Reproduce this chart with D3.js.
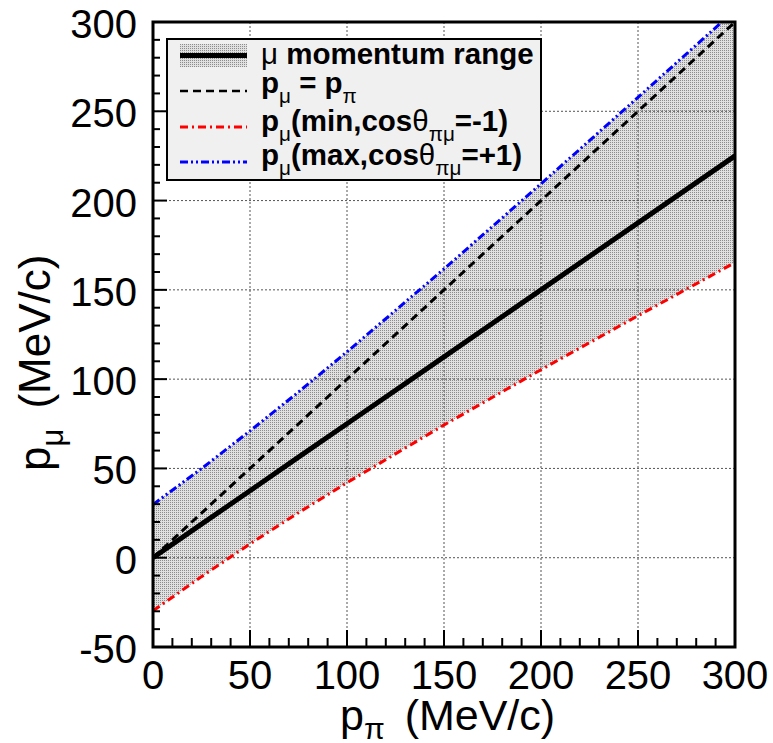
<!DOCTYPE html>
<html>
<head>
<meta charset="utf-8">
<script src="https://cdn.jsdelivr.net/npm/d3@7"></script>
<style>
  html, body { margin: 0; padding: 0; background: #fff; }
  svg { display: block; }
</style>
</head>
<body>
<svg id="chart" width="773" height="743"></svg>
<script>
// ---- data ----
const pPi      = [0, 25, 50, 75, 100, 150, 200, 250, 300];
const pMuMax   = [29.8, 49.9, 71.0, 92.8, 115.3, 161.7, 209.4, 257.8, 306.6];
const pMuMin   = [-29.8, -10.6, 7.7, 25.2, 42.0, 74.3, 105.3, 135.5, 165.3];
const pMuMean  = [0, 18.8, 37.5, 56.3, 75.0, 112.5, 150.0, 187.5, 225.0];
const pMuEqual = [0, 25, 50, 75, 100, 150, 200, 250, 300];
const xTicks = [0, 50, 100, 150, 200, 250, 300];
const yTicks = [-50, 0, 50, 100, 150, 200, 250, 300];
const xDomain = [0, 300];
const yDomain = [-50, 300];

const FONT = "'Liberation Sans', Arial, Helvetica, sans-serif";
const L = 153, R = 735, T = 22, B = 647;

const svg = d3.select("#chart");
const x = d3.scaleLinear().domain(xDomain).range([L, R]);
const y = d3.scaleLinear().domain(yDomain).range([B, T]);

const defs = svg.append("defs");
const pat = defs.append("pattern").attr("id", "dots").attr("patternUnits", "userSpaceOnUse")
  .attr("width", 2).attr("height", 2);
pat.append("rect").attr("width", 2).attr("height", 2).attr("fill", "#e0e0e0");
pat.append("rect").attr("width", 1).attr("height", 1).attr("fill", "#8c8c8c");
defs.append("clipPath").attr("id", "clip").append("rect")
  .attr("x", L).attr("y", T).attr("width", R - L).attr("height", B - T);

const plot = svg.append("g").attr("clip-path", "url(#clip)");

// band
const pts = pPi.map((p, i) => ({p, lo: pMuMin[i], hi: pMuMax[i]}));
plot.append("path").datum(pts)
  .attr("fill", "url(#dots)")
  .attr("d", d3.area().x(d => x(d.p)).y0(d => y(d.lo)).y1(d => y(d.hi)));

// grid
plot.append("g").selectAll("line").data(xTicks.filter(v => v > xDomain[0] && v < xDomain[1])).join("line")
  .attr("x1", d => x(d)).attr("x2", d => x(d)).attr("y1", T).attr("y2", B)
  .attr("stroke", "#555").attr("stroke-width", 1).attr("stroke-dasharray", "2,2");
plot.append("g").selectAll("line").data(yTicks.filter(v => v > yDomain[0] && v < yDomain[1])).join("line")
  .attr("y1", d => y(d)).attr("y2", d => y(d)).attr("x1", L).attr("x2", R)
  .attr("stroke", "#555").attr("stroke-width", 1).attr("stroke-dasharray", "2,2");

const line = (arr) => d3.line().x((d, i) => x(pPi[i])).y(d => y(d))(arr);

plot.append("path").attr("d", line(pMuEqual)).attr("fill", "none")
  .attr("stroke", "#000").attr("stroke-width", 3).attr("stroke-dasharray", "8,5");
plot.append("path").attr("d", line(pMuMin)).attr("fill", "none")
  .attr("stroke", "#ff0000").attr("stroke-width", 3).attr("stroke-dasharray", "8,4,2,4");
plot.append("path").attr("d", line(pMuMax)).attr("fill", "none")
  .attr("stroke", "#0000ff").attr("stroke-width", 3).attr("stroke-dasharray", "8,3,2,3,2,3");
plot.append("path").attr("d", line(pMuMean)).attr("fill", "none")
  .attr("stroke", "#000").attr("stroke-width", 5);

// axes ticks (inside)
const ax = svg.append("g");
const xMinor = d3.range(xDomain[0], xDomain[1] + 0.1, 10);
const yMinor = d3.range(yDomain[0], yDomain[1] + 0.1, 10);
ax.selectAll(".xt").data(xMinor).join("line")
  .attr("x1", d => x(d)).attr("x2", d => x(d)).attr("y1", B)
  .attr("y2", d => B - (d % 50 === 0 ? 17 : 9))
  .attr("stroke", "#000").attr("stroke-width", 2);
ax.selectAll(".yt").data(yMinor).join("line")
  .attr("y1", d => y(d)).attr("y2", d => y(d)).attr("x1", L)
  .attr("x2", d => L + (Math.abs(d) % 50 === 0 ? 14 : 7))
  .attr("stroke", "#000").attr("stroke-width", 2);

// frame
svg.append("rect").attr("x", L).attr("y", T).attr("width", R - L).attr("height", B - T)
  .attr("fill", "none").attr("stroke", "#000").attr("stroke-width", 3);

// tick labels
svg.append("g").selectAll("text").data(xTicks).join("text")
  .attr("x", d => x(d)).attr("y", 689)
  .attr("text-anchor", "middle").attr("font-family", FONT).attr("font-size", 40)
  .text(d => d);
svg.append("g").selectAll("text").data(yTicks).join("text")
  .attr("x", 137).attr("y", d => y(d) + 16)
  .attr("text-anchor", "end").attr("font-family", FONT).attr("font-size", 40)
  .text(d => d);

// rich text helper
function rich(sel, segs, size, bold, subOff) {
  const t = sel.append("text").attr("font-family", FONT).attr("font-size", size)
    .attr("font-weight", bold ? "bold" : "normal");
  let shift = 0;
  segs.forEach(s => {
    const sub = !!s.sub;
    const target = sub ? size * subOff : 0;
    const ts = t.append("tspan").text(s.t)
      .attr("dy", target - shift)
      .attr("font-size", sub ? size * 0.7 : size)
      .attr("font-weight", s.g ? "normal" : null);
    if (s.dx) ts.attr("dx", s.dx);
    shift = target;
  });
  return t;
}

// axis titles
rich(svg, [{t: "p"}, {t: "π", sub: 1, g: 1}, {t: " (MeV/c)", dx: 8}], 43, false, 0.2)
  .attr("x", 340).attr("y", 730);
rich(svg.append("g").attr("transform", "translate(50,471) rotate(-90)"),
  [{t: "p"}, {t: "μ", sub: 1, g: 1}, {t: " (MeV/c)", dx: 8}], 44, false, 0.3)
  .attr("x", 0).attr("y", 0);

// legend
const lg = svg.append("g");
lg.append("rect").attr("x", 167).attr("y", 39).attr("width", 374).attr("height", 141)
  .attr("fill", "#f0f0f0").attr("stroke", "#000").attr("stroke-width", 2);
const sx1 = 180, sx2 = 247, tx = 261;
lg.append("rect").attr("x", sx1).attr("y", 44).attr("width", sx2 - sx1).attr("height", 23)
  .attr("fill", "url(#dots)");
lg.append("line").attr("x1", sx1).attr("x2", sx2).attr("y1", 55.5).attr("y2", 55.5)
  .attr("stroke", "#000").attr("stroke-width", 5);
lg.append("line").attr("x1", sx1).attr("x2", sx2).attr("y1", 91).attr("y2", 91)
  .attr("stroke", "#000").attr("stroke-width", 2.5).attr("stroke-dasharray", "8,5");
lg.append("line").attr("x1", sx1).attr("x2", sx2).attr("y1", 127).attr("y2", 127)
  .attr("stroke", "#ff0000").attr("stroke-width", 3).attr("stroke-dasharray", "8,4,2,4");
lg.append("line").attr("x1", sx1).attr("x2", sx2).attr("y1", 162).attr("y2", 162)
  .attr("stroke", "#0000ff").attr("stroke-width", 3).attr("stroke-dasharray", "8,3,2,3,2,3");

const LF = 29.5;
rich(lg, [{t: "μ", g: 1}, {t: " momentum range"}], LF, true, 0.34).attr("x", tx).attr("y", 64);
rich(lg, [{t: "p"}, {t: "μ", sub: 1, g: 1}, {t: " = p"}, {t: "π", sub: 1, g: 1}], LF, true, 0.34)
  .attr("x", tx).attr("y", 93);
rich(lg, [{t: "p"}, {t: "μ", sub: 1, g: 1}, {t: "(min,cos"}, {t: "θ", g: 1}, {t: "πμ", sub: 1, g: 1}, {t: "=-1)"}], LF, true, 0.34)
  .attr("x", tx).attr("y", 131);
rich(lg, [{t: "p"}, {t: "μ", sub: 1, g: 1}, {t: "(max,cos"}, {t: "θ", g: 1}, {t: "πμ", sub: 1, g: 1}, {t: "=+1)"}], LF, true, 0.34)
  .attr("x", tx).attr("y", 165);
</script>
</body>
</html>
